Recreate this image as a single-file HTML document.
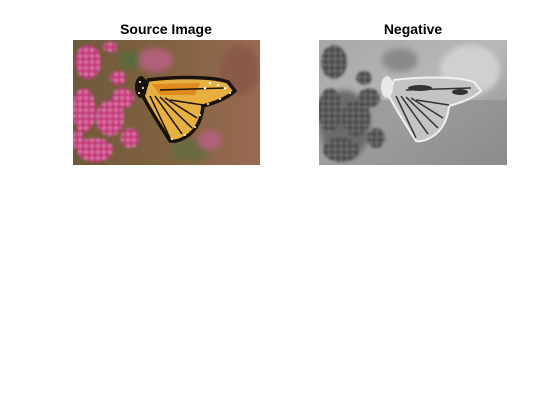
<!DOCTYPE html>
<html><head><meta charset="utf-8"><style>
html,body{margin:0;padding:0;background:#fff;}
svg{display:block;}
text{font-family:"Liberation Sans",sans-serif;font-weight:bold;font-size:14px;fill:#000;}
</style></head><body>
<svg width="560" height="420" viewBox="0 0 560 420">
<defs>
<linearGradient id="bgL" x1="0" x2="1" y1="0" y2="0">
<stop offset="0" stop-color="#6e5a3a"/><stop offset="0.45" stop-color="#7d6140"/><stop offset="1" stop-color="#9a6a52"/></linearGradient>
<linearGradient id="bgR" x1="0" x2="1" y1="0" y2="1">
<stop offset="0" stop-color="#a8a8a8"/><stop offset="0.5" stop-color="#b8b8b8"/><stop offset="1" stop-color="#8a8a8a"/></linearGradient>
<filter id="bl"><feGaussianBlur stdDeviation="3"/></filter>
<filter id="bl2"><feGaussianBlur stdDeviation="1.2"/></filter>
<clipPath id="cL"><rect x="73" y="40" width="187" height="125"/></clipPath>
<clipPath id="cR"><rect x="319" y="40" width="188" height="125"/></clipPath>
<pattern id="dotsP" width="6" height="6" patternUnits="userSpaceOnUse">
<rect width="6" height="6" fill="#c83c80"/><circle cx="2" cy="2" r="1.3" fill="#f2a4cc"/><circle cx="5" cy="5" r="0.9" fill="#8a2050"/></pattern>
<pattern id="dotsN" width="6" height="6" patternUnits="userSpaceOnUse">
<rect width="6" height="6" fill="#5a5a5a"/><circle cx="2" cy="2" r="1.3" fill="#2a2a2a"/><circle cx="5" cy="5" r="0.9" fill="#a0a0a0"/></pattern>
</defs>
<text x="166" y="34" text-anchor="middle">Source Image</text>
<text x="413" y="34" text-anchor="middle">Negative</text>

<g clip-path="url(#cL)">
<rect x="73" y="40" width="187" height="125" fill="url(#bgL)"/>
<g filter="url(#bl)">
<ellipse cx="155" cy="60" rx="18" ry="12" fill="#b0607a"/>
<ellipse cx="190" cy="150" rx="20" ry="12" fill="#6a6a40"/>
<ellipse cx="210" cy="140" rx="12" ry="10" fill="#b0607a"/>
<ellipse cx="240" cy="70" rx="20" ry="25" fill="#8a5a48"/>
<ellipse cx="130" cy="60" rx="10" ry="10" fill="#5a6a3a"/>
</g>
<g fill="url(#dotsP)" filter="url(#bl2)">
<ellipse cx="88" cy="62" rx="13" ry="17"/><ellipse cx="84" cy="110" rx="12" ry="22"/>
<ellipse cx="110" cy="118" rx="14" ry="18"/><ellipse cx="123" cy="98" rx="11" ry="10"/>
<ellipse cx="95" cy="150" rx="18" ry="12"/><ellipse cx="118" cy="78" rx="8" ry="7"/>
<ellipse cx="130" cy="138" rx="9" ry="10"/><ellipse cx="110" cy="47" rx="7" ry="5"/>
<ellipse cx="78" cy="140" rx="6" ry="10"/>
</g>
<path d="M148,80 C180,76 215,77 228,82 L235,91 C225,100 210,104 203,106 C202,118 197,128 190,134 C182,140 175,142 170,141 C160,125 150,110 143,96 Z" fill="#e8b040" stroke="#1a1208" stroke-width="3.5" stroke-linejoin="round"/>
<polygon points="152,84 200,83 195,95 160,95" fill="#e08a20"/>
<g stroke="#1a1208" stroke-width="1.5" fill="none">
<path d="M150,96 L170,138 M155,96 L182,134 M160,97 L192,128 M165,98 L197,118 M160,90 L225,88 M170,100 L203,105"/>
</g>
<ellipse cx="141" cy="87" rx="6" ry="11" fill="#1a1208"/>
<g fill="#fff">
<circle cx="140" cy="82" r="1"/><circle cx="143" cy="88" r="1"/><circle cx="139" cy="93" r="1"/>
<circle cx="210" cy="83" r="1.3"/><circle cx="218" cy="85" r="1.3"/><circle cx="225" cy="88" r="1.3"/>
<circle cx="205" cy="88" r="1.3"/><circle cx="172" cy="139" r="1"/><circle cx="185" cy="135" r="1"/><circle cx="195" cy="127" r="1"/>
<circle cx="230" cy="93" r="1"/><circle cx="220" cy="99" r="1"/><circle cx="208" cy="104" r="1"/><circle cx="200" cy="115" r="1"/>
</g>
</g>

<g clip-path="url(#cR)">
<rect x="319" y="40" width="188" height="125" fill="url(#bgR)"/>
<rect x="319" y="100" width="188" height="65" fill="#8c8c8c" opacity="0.6"/>
<g filter="url(#bl)">
<ellipse cx="470" cy="70" rx="30" ry="25" fill="#d0d0d0"/>
<ellipse cx="345" cy="125" rx="25" ry="35" fill="#6a6a6a"/>
<ellipse cx="400" cy="60" rx="18" ry="12" fill="#8a8a8a"/>
</g>
<g fill="url(#dotsN)" filter="url(#bl2)">
<ellipse cx="334" cy="62" rx="13" ry="17"/><ellipse cx="330" cy="110" rx="12" ry="22"/>
<ellipse cx="356" cy="118" rx="14" ry="18"/><ellipse cx="369" cy="98" rx="11" ry="10"/>
<ellipse cx="341" cy="150" rx="18" ry="12"/><ellipse cx="364" cy="78" rx="8" ry="7"/>
<ellipse cx="376" cy="138" rx="9" ry="10"/>
</g>
<path d="M394,80 C426,76 461,77 474,82 L481,91 C471,100 456,104 449,106 C448,118 443,128 436,134 C428,140 421,142 416,141 C406,125 396,110 389,96 Z" fill="#c4c4c4" stroke="#f0f0f0" stroke-width="2" stroke-linejoin="round"/>
<g stroke="#333" stroke-width="1.5" fill="none">
<path d="M396,96 L416,138 M401,96 L428,134 M406,97 L438,128 M411,98 L443,118 M406,90 L471,88 M416,100 L449,105"/>
</g>
<g fill="#333"><ellipse cx="420" cy="88" rx="12" ry="3"/><ellipse cx="460" cy="92" rx="8" ry="3"/></g>
<ellipse cx="387" cy="87" rx="6" ry="11" fill="#e8e8e8"/>
</g>
</svg>
</body></html>
